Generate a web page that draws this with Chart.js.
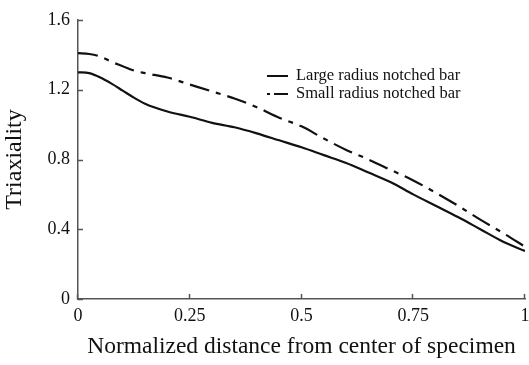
<!DOCTYPE html>
<html>
<head>
<meta charset="utf-8">
<script src="https://cdn.jsdelivr.net/npm/chart.js@4"></script>
<style>
  html, body { margin: 0; padding: 0; background: #fff; }
  #wrap { width: 529px; height: 365px; }
</style>
</head>
<body>
<div id="wrap"><canvas id="chart" width="529" height="365"></canvas></div>
<script>
// Normalized distance (x) and triaxiality values
const distances = [0, 0.025, 0.05, 0.075, 0.1, 0.125, 0.15, 0.2, 0.25, 0.3, 0.35, 0.4, 0.45, 0.5,
                   0.55, 0.6, 0.65, 0.7, 0.75, 0.8, 0.85, 0.9, 0.95, 1.0];
const largeRadius = [1.30, 1.295, 1.27, 1.235, 1.195, 1.155, 1.12, 1.075, 1.045, 1.01, 0.985, 0.95, 0.91, 0.87,
                     0.825, 0.78, 0.725, 0.67, 0.60, 0.535, 0.47, 0.40, 0.33, 0.275];
const smallRadius = [1.41, 1.405, 1.39, 1.36, 1.335, 1.31, 1.295, 1.27, 1.23, 1.19, 1.15, 1.10, 1.04, 0.99,
                     0.92, 0.855, 0.80, 0.74, 0.68, 0.61, 0.535, 0.455, 0.38, 0.30];
const xTicks = [0, 0.25, 0.5, 0.75, 1];
const yTicks = [0, 0.4, 0.8, 1.2, 1.6];

const serif = "'Liberation Serif', 'Times New Roman', serif";
const axisColor = '#555';
const smallDash = [20, 7, 5, 7];

function toPoints(values) {
    return distances.map((d, i) => ({ x: d, y: values[i] }));
}

// Short tick marks pointing into the plot, like the original figure
const inwardTicks = {
    id: 'inwardTicks',
    afterDraw(chart) {
        const { ctx, scales: { x, y } } = chart;
        ctx.save();
        ctx.strokeStyle = axisColor;
        ctx.lineWidth = 1.5;
        xTicks.forEach(v => {
            const px = Math.round(x.getPixelForValue(v)) - 0.5;
            ctx.beginPath();
            ctx.moveTo(px, y.bottom);
            ctx.lineTo(px, y.bottom - 5);
            ctx.stroke();
        });
        yTicks.forEach(v => {
            const py = Math.round(y.getPixelForValue(v)) + 0.5;
            ctx.beginPath();
            ctx.moveTo(x.left, py);
            ctx.lineTo(x.left + 5, py);
            ctx.stroke();
        });
        ctx.restore();
    }
};

// Legend drawn inside the plot area
const innerLegend = {
    id: 'innerLegend',
    afterDraw(chart) {
        const { ctx, chartArea } = chart;
        const x0 = chartArea.left + 189;
        let yRow = chartArea.top + 56;
        ctx.save();
        ctx.font = '16.5px ' + serif;
        ctx.fillStyle = '#111';
        ctx.textBaseline = 'middle';
        chart.data.datasets.forEach((ds, i) => {
            ctx.strokeStyle = '#111';
            ctx.lineWidth = 2;
            ctx.beginPath();
            if (i === 0) {
                ctx.moveTo(x0, yRow);
                ctx.lineTo(x0 + 21, yRow);
            } else {
                ctx.moveTo(x0, yRow);
                ctx.lineTo(x0 + 3, yRow);
                ctx.moveTo(x0 + 7, yRow);
                ctx.lineTo(x0 + 21, yRow);
            }
            ctx.stroke();
            ctx.fillText(ds.label, x0 + 29, yRow);
            yRow += 18;
        });
        ctx.restore();
    }
};

new Chart(document.getElementById('chart'), {
    type: 'line',
    data: {
        datasets: [
            {
                label: 'Large radius notched bar',
                data: toPoints(largeRadius),
                borderColor: '#111',
                borderWidth: 2.2,
                pointRadius: 0,
                tension: 0.4,
                cubicInterpolationMode: 'monotone'
            },
            {
                label: 'Small radius notched bar',
                data: toPoints(smallRadius),
                borderColor: '#111',
                borderWidth: 2.2,
                borderDash: smallDash,
                pointRadius: 0,
                tension: 0.4,
                cubicInterpolationMode: 'monotone'
            }
        ]
    },
    options: {
        responsive: false,
        animation: false,
        layout: { padding: { top: 20, right: 0, left: 0, bottom: 0 } },
        plugins: {
            legend: { display: false },
            tooltip: { enabled: false }
        },
        scales: {
            x: {
                type: 'linear',
                min: 0,
                max: 1,
                afterBuildTicks: scale => { scale.ticks = xTicks.map(v => ({ value: v })); },
                afterFit: scale => { scale.height = 66; scale.paddingRight = 4; },
                grid: { display: false, drawTicks: false },
                border: { display: true, color: axisColor, width: 1.5 },
                ticks: {
                    padding: 6,
                    color: '#111',
                    font: { family: serif, size: 18 },
                    maxRotation: 0,
                    callback: v => String(v)
                },
                title: {
                    display: true,
                    text: 'Normalized distance from center of specimen',
                    color: '#111',
                    font: { family: serif, size: 23.5 },
                    padding: { top: 2, bottom: 4 }
                }
            },
            y: {
                min: 0,
                max: 1.6,
                afterBuildTicks: scale => { scale.ticks = yTicks.map(v => ({ value: v })); },
                afterFit: scale => { scale.width = 78; },
                grid: { display: false, drawTicks: false },
                border: { display: true, color: axisColor, width: 1.5 },
                ticks: {
                    padding: 8,
                    color: '#111',
                    font: { family: serif, size: 18 },
                    callback: v => String(v)
                },
                title: {
                    display: true,
                    text: 'Triaxiality',
                    color: '#111',
                    font: { family: serif, size: 24 },
                    padding: { top: 0, bottom: 0 }
                }
            }
        }
    },
    plugins: [inwardTicks, innerLegend]
});
</script>
</body>
</html>
